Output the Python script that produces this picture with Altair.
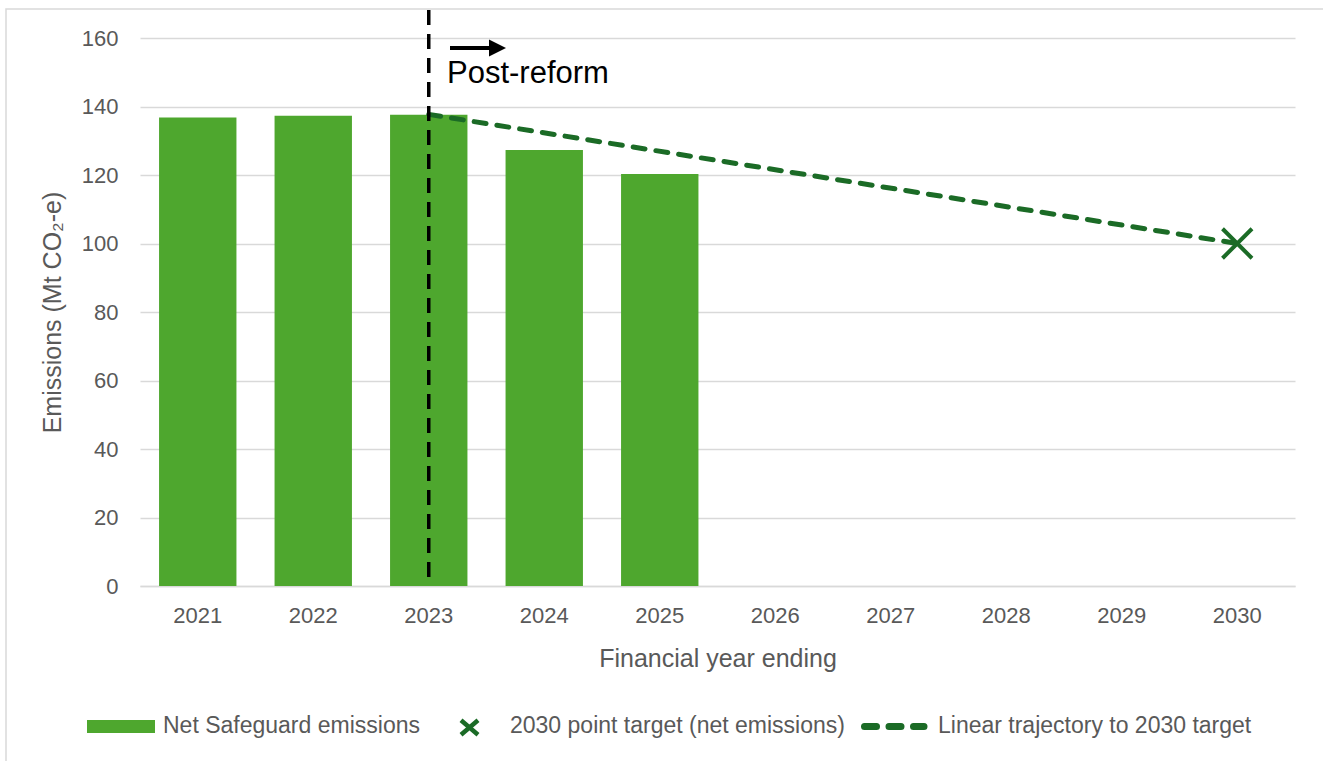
import altair as alt
import pandas as pd

# ---- data ----
years = ["2021", "2022", "2023", "2024", "2025", "2026", "2027", "2028", "2029", "2030"]
bar_years = ["2021", "2022", "2023", "2024", "2025"]
net_emissions = [136.8, 137.3, 137.6, 127.3, 120.3]
traj_years = ["2023", "2030"]
traj_values = [137.7, 100.0]
target_year = ["2030"]
target_value = [100.0]
reform_year = ["2023"]
y_ticks = [0, 20, 40, 60, 80, 100, 120, 140, 160]

legend_labels = [
    "Net Safeguard emissions",
    "2030 point target (net emissions)",
    "Linear trajectory to 2030 target",
]

FONT = "Liberation Sans"
GRAY = "#595959"
GRID = "#d9d9d9"
BAR_GREEN = "#4EA72E"
DARK_GREEN = "#1B6B26"
X_PATH = "M-1,-1L1,1M-1,1L1,-1"

W, H = 1155, 548

bars_df = pd.DataFrame({"year": bar_years, "value": net_emissions})
traj_df = pd.DataFrame({"year": traj_years, "value": traj_values})
target_df = pd.DataFrame({"year": target_year, "value": target_value})
reform_df = pd.DataFrame({"year": reform_year})
one = pd.DataFrame({"k": [0]})

x_scale = alt.Scale(domain=years, paddingInner=0.33, paddingOuter=0.165)
y_scale = alt.Scale(domain=[0, 160], nice=False)

x_enc = alt.X(
    "year:N",
    scale=x_scale,
    title="Financial year ending",
    axis=alt.Axis(
        labelAngle=0,
        labelFont=FONT,
        labelFontSize=22,
        labelColor=GRAY,
        labelBaseline="alphabetic",
        labelPadding=36,
        ticks=False,
        tickSize=0,
        domain=True,
        domainColor=GRID,
        domainWidth=1.5,
        grid=False,
        titleFont=FONT,
        titleFontSize=25,
        titleFontWeight="normal",
        titleColor=GRAY,
        titleBaseline="alphabetic",
        titleY=80,
    ),
)
y_enc = alt.Y(
    "value:Q",
    scale=y_scale,
    title="Emissions (Mt CO₂-e)",
    axis=alt.Axis(
        values=y_ticks,
        labelFont=FONT,
        labelFontSize=22,
        labelColor=GRAY,
        labelPadding=22,
        ticks=False,
        tickSize=0,
        domain=False,
        grid=True,
        gridColor=GRID,
        gridWidth=1.5,
        titleFont=FONT,
        titleFontSize=25,
        titleFontWeight="normal",
        titleColor=GRAY,
        titleAngle=270,
        titleBaseline="alphabetic",
        titleAlign="center",
        titleX=-80,
        titleY=H / 2,
    ),
)

border = alt.Chart(one).mark_rect(
    fillOpacity=0, stroke=GRID, strokeWidth=1.5
).encode(
    x=alt.value(-134), x2=alt.value(W + 200), y=alt.value(-29), y2=alt.value(H + 300)
)

bars = alt.Chart(bars_df).mark_bar(color=BAR_GREEN).encode(x=x_enc, y=y_enc)

traj = alt.Chart(traj_df).mark_line(
    color=DARK_GREEN, strokeWidth=5, strokeDash=[12, 11], strokeCap="round"
).encode(x=alt.X("year:N", scale=x_scale), y=alt.Y("value:Q", scale=y_scale))

target = alt.Chart(target_df).mark_point(
    shape=X_PATH, size=870, strokeWidth=4, color=DARK_GREEN, filled=False, opacity=1
).encode(x=alt.X("year:N", scale=x_scale), y=alt.Y("value:Q", scale=y_scale))

reform = alt.Chart(reform_df).mark_rule(
    color="black", strokeWidth=3.5, strokeDash=[15, 9]
).encode(x=alt.X("year:N", scale=x_scale), y=alt.value(-28), y2=alt.value(H))

arrow_line = alt.Chart(one).mark_rule(color="black", strokeWidth=4).encode(
    x=alt.value(310), x2=alt.value(352), y=alt.value(10)
)
arrow_head = alt.Chart(one).mark_point(
    shape="M-1,-1L1,0L-1,1Z", size=289, filled=True, color="black", opacity=1
).encode(x=alt.value(357.5), y=alt.value(10))
reform_text = alt.Chart(one).mark_text(
    text="Post-reform", font=FONT, fontSize=31, color="black",
    align="left", baseline="alphabetic"
).encode(x=alt.value(307), y=alt.value(45))

# ---- legend ----
LEG_Y = 688.5
leg_rect = alt.Chart(one).mark_rect(color=BAR_GREEN).encode(
    x=alt.value(-53), x2=alt.value(15), y=alt.value(682), y2=alt.value(695)
)
leg_x = alt.Chart(one).mark_point(
    shape="M-1,-0.85L1,0.85M-1,0.85L1,-0.85", size=289, strokeWidth=4.5,
    color=DARK_GREEN, filled=False, opacity=1
).encode(x=alt.value(329.5), y=alt.value(LEG_Y + 1))
leg_dash = alt.Chart(one).mark_rule(
    color=DARK_GREEN, strokeWidth=7, strokeDash=[12, 12.5], strokeCap="round"
).encode(x=alt.value(724.5), x2=alt.value(784), y=alt.value(LEG_Y))

def leg_text(label, xpos):
    return alt.Chart(one).mark_text(
        text=label, font=FONT, fontSize=23, color=GRAY,
        align="left", baseline="alphabetic"
    ).encode(x=alt.value(xpos), y=alt.value(695))

leg_t1 = leg_text(legend_labels[0], 23)
leg_t2 = leg_text(legend_labels[1], 370)
leg_t3 = leg_text(legend_labels[2], 798)

chart = alt.layer(
    border, bars, traj, target, reform, arrow_line, arrow_head, reform_text,
    leg_rect, leg_x, leg_dash, leg_t1, leg_t2, leg_t3
).properties(
    width=W,
    height=H,
    padding={"left": 140, "top": 38, "right": 28, "bottom": 175},
    autosize=alt.AutoSizeParams(type="none"),
    background="white",
).configure_view(stroke=None)

chart.save("out.html", embed_options={"renderer": "svg", "actions": False})
